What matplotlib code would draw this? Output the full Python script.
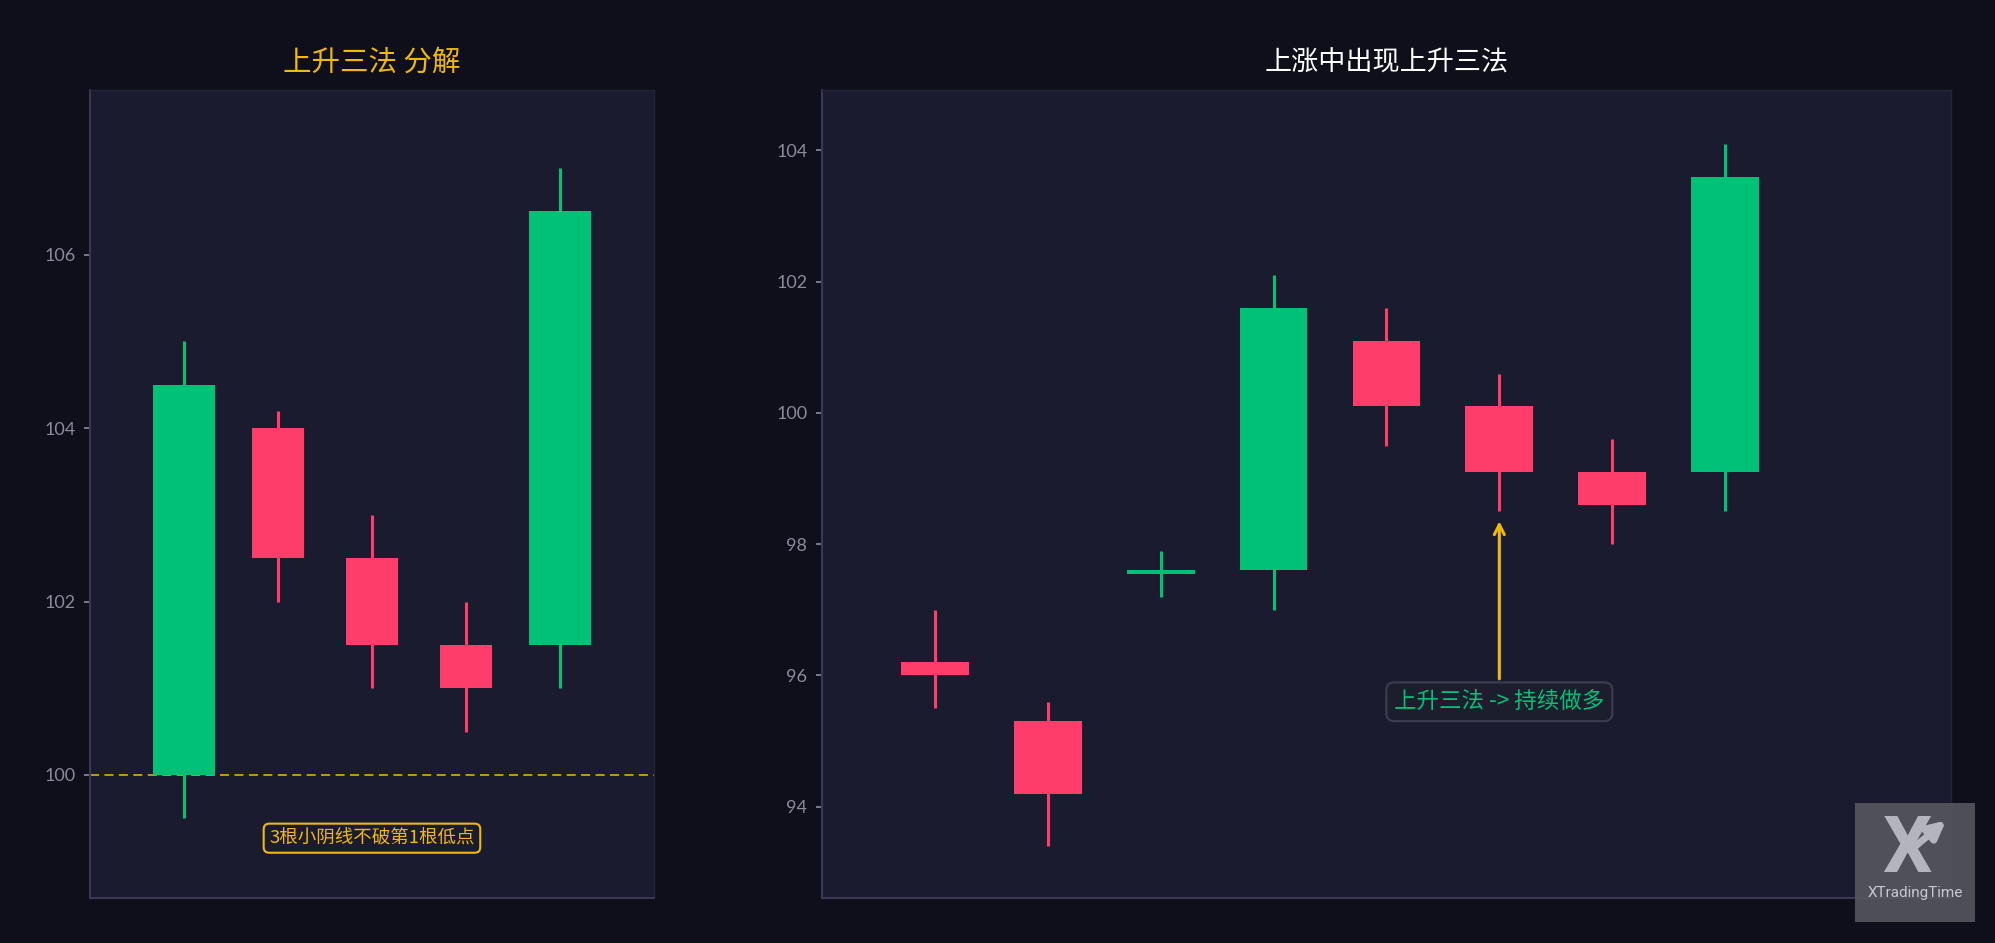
import matplotlib
matplotlib.use("Agg")
import matplotlib.pyplot as plt
from matplotlib.patches import Rectangle, FancyArrowPatch

plt.rcParams['font.family'] = ['Noto Sans CJK SC', 'DejaVu Sans']

# ---------------- data ----------------
left_x = [0, 1, 2, 3, 4]
left_open = [100.0, 104.0, 102.5, 101.5, 101.5]
left_close = [104.5, 102.5, 101.5, 101.0, 106.5]
left_high = [105.0, 104.2, 103.0, 102.0, 107.0]
left_low = [99.5, 102.0, 101.0, 100.5, 101.0]
left_ticks = [100, 102, 104, 106]
left_title = "上升三法 分解"
left_note = "3根小阴线不破第1根低点"
support_level = 100.0

right_x = [0, 1, 2, 3, 4, 5, 6, 7]
right_open = [96.2, 95.3, 97.55, 97.6, 101.1, 100.1, 99.1, 99.1]
right_close = [96.0, 94.2, 97.6, 101.6, 100.1, 99.1, 98.6, 103.6]
right_high = [97.0, 95.6, 97.9, 102.1, 101.6, 100.6, 99.6, 104.1]
right_low = [95.5, 93.4, 97.2, 97.0, 99.5, 98.5, 98.0, 98.5]
right_ticks = [94, 96, 98, 100, 102, 104]
right_title = "上涨中出现上升三法"
right_note = "上升三法 -> 持续做多"

# ---------------- style ----------------
FIG_BG = "#0e0f1a"
AX_BG = "#1a1b2e"
GREEN = "#00c176"
RED = "#ff3d6b"
GOLD = "#f0b90b"
TICK_C = "#8b8b9a"
SPINE_C = "#383950"

fig = plt.figure(figsize=(19.95, 9.43), dpi=100, facecolor=FIG_BG)
axL = fig.add_axes([0.0451, 0.0477, 0.2827, 0.8569])
axR = fig.add_axes([0.4120, 0.0477, 0.5659, 0.8569])


def style(ax, ticks):
    ax.set_facecolor(AX_BG)
    for s in ("left", "bottom"):
        ax.spines[s].set_color(SPINE_C)
        ax.spines[s].set_linewidth(1.5)
    for s in ("top", "right"):
        ax.spines[s].set_color("#24253a")
        ax.spines[s].set_linewidth(1.0)
    ax.set_xticks([])
    ax.set_yticks(ticks)
    ax.set_yticklabels([str(t) for t in ticks], family=['Lato', 'DejaVu Sans'])
    ax.tick_params(axis='y', colors=TICK_C, labelsize=13, length=4.5, width=1.2, pad=6)


def candles(ax, xs, o, c, h, l, wgreen, wred):
    for x, op, cl, hi, lo in zip(xs, o, c, h, l):
        up = cl >= op
        col = GREEN if up else RED
        ax.vlines(x, lo, hi, color=col, lw=2.2, zorder=2)
        ax.bar(x, abs(cl - op), bottom=min(op, cl), width=wgreen if up else wred,
               color=col, zorder=3, linewidth=0)


# left panel
style(axL, left_ticks)
candles(axL, left_x, left_open, left_close, left_high, left_low, 0.65, 0.55)
axL.set_xlim(-1, 5)
axL.set_ylim(98.58, 107.9)
axL.axhline(support_level, color=GOLD, lw=1.3, ls=(0, (5, 3)), alpha=0.85, zorder=1)
axL.set_title(left_title, color=GOLD, fontsize=20.5, pad=14)
axL.text(2, 99.27, left_note, color=GOLD, fontsize=13.3, ha='center', va='center',
         bbox=dict(boxstyle='round,pad=0.3', fc=AX_BG, ec=GOLD, lw=1.5), zorder=5)

# right panel
style(axR, right_ticks)
candles(axR, right_x, right_open, right_close, right_high, right_low, 0.6, 0.6)
axR.set_xlim(-1, 9)
axR.set_ylim(92.61, 104.92)
axR.set_title(right_title, color="#ffffff", fontsize=19.5, pad=14)
axR.annotate(right_note, xy=(5, 98.35), xytext=(5, 95.6), color=GREEN, fontsize=16.2,
             ha='center', va='center',
             bbox=dict(boxstyle='round,pad=0.35', fc="#1c1d2d", ec="#3c3d52", lw=1.5),
             arrowprops=dict(arrowstyle='->', color=GOLD, lw=2.2, mutation_scale=18,
                             shrinkA=2, shrinkB=0), zorder=5)

# logo
fig.patches.append(Rectangle((0.9298, 0.0223), 0.0602, 0.1262, transform=fig.transFigure,
                             facecolor="#5a5a62", alpha=0.85, edgecolor='none', zorder=10))
fig.text(0.9560, 0.0975, "X", color="#b4b4bc", fontsize=56, fontweight='bold',
         ha='center', va='center', family=['Roboto', 'DejaVu Sans'], zorder=11)
fig.text(0.9600, 0.053, "XTradingTime", color="#c8c8d0", fontsize=11,
         ha='center', va='center', family=['Roboto', 'DejaVu Sans'], zorder=11)
fig.patches.append(FancyArrowPatch(
    (0.9575, 0.098), (0.9755, 0.130), transform=fig.transFigure, arrowstyle='-|>',
    mutation_scale=26, color="#b4b4bc", lw=5, zorder=12, shrinkA=0, shrinkB=0))

fig.savefig("out.png", dpi=100, facecolor=FIG_BG)
